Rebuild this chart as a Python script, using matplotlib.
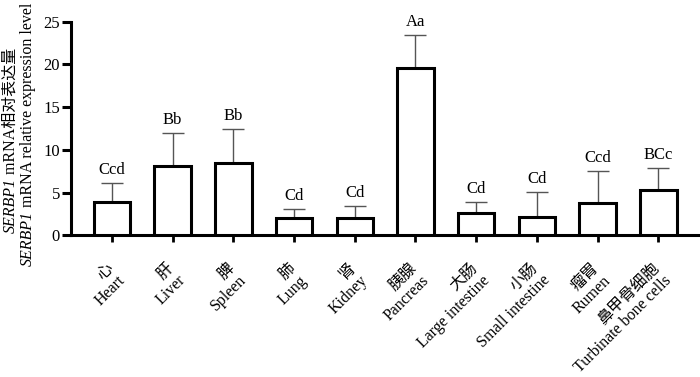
import matplotlib
matplotlib.use("Agg")
import matplotlib.pyplot as plt
import numpy as np

plt.rcParams['font.family'] = ['Liberation Serif', 'Noto Sans CJK SC']

categories_cn = ['心', '肝', '脾', '肺', '肾', '胰腺', '大肠', '小肠', '瘤胃', '鼻甲骨细胞']
categories_en = ['Heart', 'Liver', 'Spleen', 'Lung', 'Kidney', 'Pancreas',
                 'Large intestine', 'Small intestine', 'Rumen', 'Turbinate bone cells']
means = [3.95, 8.15, 8.45, 2.0, 2.0, 19.55, 2.6, 2.2, 3.75, 5.25]
errors = [2.15, 3.85, 3.95, 1.08, 1.47, 3.95, 1.27, 2.91, 3.79, 2.68]
letters = ['Ccd', 'Bb', 'Bb', 'Cd', 'Cd', 'Aa', 'Cd', 'Cd', 'Ccd', 'BCc']
yticks = [0, 5, 10, 15, 20, 25]

W, H = 700, 377
fig = plt.figure(figsize=(W / 100, H / 100), dpi=100)
ax = fig.add_axes([71 / W, 1 - 235.3 / H, (W - 71) / W, (235.3 - 21.7) / H])

x = np.arange(len(means))
ax.bar(x, means, width=0.6, color='white', edgecolor='black', linewidth=2.2, zorder=3)
ax.errorbar(x, means, yerr=[np.zeros(len(errors)), errors], fmt='none',
            ecolor='#555555', elinewidth=1.0, capsize=8, capthick=1.0, zorder=2)

for xi, m, e, lab in zip(x, means, errors, letters):
    ax.annotate(lab, xy=(xi, m + e), xytext=(0, 9), textcoords='offset pixels',
                ha='center', va='baseline', fontsize=12)

ax.set_xlim(-0.675, 9.687)
ax.set_ylim(0, 25)
ax.set_yticks(yticks)
ax.tick_params(axis='y', direction='out', length=6.5, width=2.2, labelsize=12, pad=1.5)
ax.tick_params(axis='x', direction='out', length=5, width=2, labelbottom=False)
ax.set_xticks(x)
for s in ['top', 'right']:
    ax.spines[s].set_visible(False)
for s in ['left', 'bottom']:
    ax.spines[s].set_linewidth(2.2)

for xi, cn, en in zip(x, categories_cn, categories_en):
    ax.annotate(cn + '\n' + en, xy=(xi, 0), xycoords='data', xytext=(-7, -25),
                textcoords='offset pixels', rotation=45, rotation_mode='anchor',
                ha='right', va='top', multialignment='right', fontsize=11.5,
                linespacing=1.1)

# y label, two lines, with italic gene name
fig.canvas.draw()
renderer = fig.canvas.get_renderer()

def vlabel(xpix, ycenter_pix, pieces):
    tmp = []
    total = 0
    for txt, style in pieces:
        t = fig.text(0, 0, txt, rotation=90, rotation_mode='anchor', ha='left',
                     va='baseline', fontsize=11.5, style=style)
        ext = t.get_window_extent(renderer)
        total += ext.height
        tmp.append((t, ext.height))
    ystart = (H - ycenter_pix) - total / 2
    for t, h in tmp:
        t.set_position((xpix / W, ystart / H))
        ystart += h

vlabel(15, 140, [('SERBP1', 'italic'), (' mRNA相对表达量', 'normal')])
vlabel(32, 134, [('SERBP1', 'italic'), (' mRNA relative expression level', 'normal')])

fig.savefig('out.png', dpi=100)
